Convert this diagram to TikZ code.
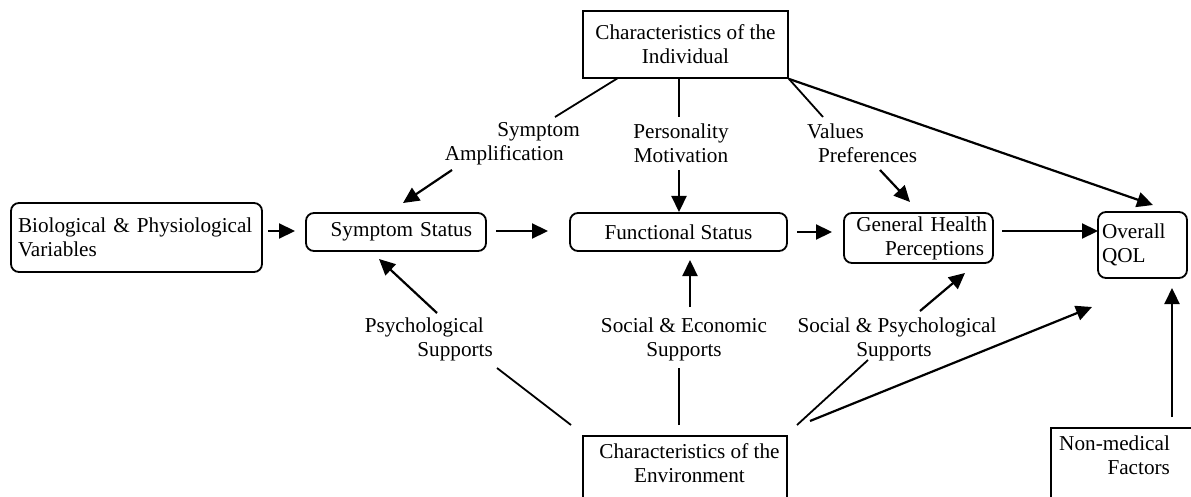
\documentclass[tikz,border=0pt]{standalone}
\usepackage{fontspec}
\setmainfont{Liberation Serif}
\usetikzlibrary{arrows.meta}
\begin{document}
\begin{tikzpicture}[x=1pt,y=-1pt,
  every node/.style={font=\fontsize{21.2}{24}\selectfont},
  sqbox/.style={draw, line width=1.8pt, inner sep=0pt},
  rbox/.style={draw, line width=1.8pt, rounded corners=8pt, inner sep=0pt},
  lbl/.style={inner sep=0pt},
  ln/.style={line width=1.8pt},
  arr/.style={line width=2.2pt, -{Triangle[length=16pt,width=15pt]}},
]
\useasboundingbox (0,0) rectangle (1191,497);
\clip (0,0) rectangle (1191,497);

% boxes
\node[sqbox, minimum width=205pt, minimum height=67pt, align=center] (indiv) at (685.5,44.5) {Characteristics of the\\Individual};
\node[rbox, minimum width=251pt, minimum height=69pt, text width=237pt, align=left] (bio) at (136.5,237.5) {Biological \& Physiological\\Variables};
\node[rbox, minimum width=180pt, minimum height=38pt, text width=152pt, align=right] (symptom) at (396,232) {Symptom Status};
\node[rbox, minimum width=217pt, minimum height=38pt] (functional) at (678.5,232) {Functional Status};
\node[rbox, minimum width=149pt, minimum height=50pt, text width=137pt, align=right] (ghp) at (918.5,238) {General Health\\Perceptions\rule{3pt}{0pt}};
\node[rbox, minimum width=89pt, minimum height=66pt, text width=81pt, align=left] (qol) at (1142.5,245) {Overall\\QOL};
\node[sqbox, anchor=north, minimum width=204pt, inner ysep=8pt, align=center] (env) at (685,435) {\rule{9pt}{0pt}Characteristics of the\\\rule{9pt}{0pt}Environment\\\mbox{}};
\node[sqbox, anchor=north west, inner ysep=8pt, inner xsep=7pt, text width=180pt, align=right] (nonmed) at (1050,427) {Non-medical\rule{68pt}{0pt}\\Factors\rule{68pt}{0pt}\\\mbox{}};

% labels
\node[lbl, anchor=east, align=right] (sa) at (580,143.5) {Symptom\\Amplification\rule{16pt}{0pt}};
\node[lbl, align=center] (pm) at (681,143.5) {Personality\\Motivation};
\node[lbl, anchor=west, align=left] (vp) at (807,143.5) {Values\\\rule{11pt}{0pt}Preferences};
\node[lbl, anchor=east, align=right] (ps) at (493,339.5) {Psychological\rule{9pt}{0pt}\\Supports};
\node[lbl, align=center] (se) at (684,339.5) {Social \& Economic\\Supports};
\node[lbl, align=center] (sp) at (897,339.5) {Social \& Psychological\\Supports\rule{6pt}{0pt}};

% connector end points
\coordinate (i1) at (618,78);
\coordinate (sa1) at (555,117);
\coordinate (sa2) at (452,170);
\coordinate (stop) at (403,203);
\coordinate (i2) at (679,78);
\coordinate (pm1) at (679,117);
\coordinate (pm2) at (679,170);
\coordinate (ftop) at (679,212);
\coordinate (vp1) at (823,117);
\coordinate (vp2) at (880,170);
\coordinate (gtop) at (910,202);
\coordinate (qtop) at (1153,205);
\coordinate (b1) at (268,231);
\coordinate (sl) at (295,231);
\coordinate (s1) at (496,231);
\coordinate (fl) at (548,231);
\coordinate (f1) at (797,232);
\coordinate (gl) at (832,232);
\coordinate (g1) at (1002,231);
\coordinate (ql) at (1098,231);
\coordinate (e1) at (571,425);
\coordinate (ps1) at (497,368);
\coordinate (ps2) at (437,313);
\coordinate (sbot) at (379,259);
\coordinate (e2) at (679,425);
\coordinate (se1) at (679,368);
\coordinate (se2) at (690,307);
\coordinate (fbot) at (690,260);
\coordinate (e3) at (797,425);
\coordinate (sp1) at (868,360);
\coordinate (sp2) at (920,311);
\coordinate (gbot) at (965,273);
\coordinate (e4) at (810,421);
\coordinate (qbot1) at (1092,307);
\coordinate (n1) at (1172,417);
\coordinate (qbot2) at (1172,288);

% connectors
\draw[arr] (b1) -- (sl);
\draw[arr] (s1) -- (fl);
\draw[arr] (f1) -- (gl);
\draw[arr] (g1) -- (ql);
\draw[ln] (i1) -- (sa1);
\draw[arr] (sa2) -- (stop);
\draw[ln] (i2) -- (pm1);
\draw[arr] (pm2) -- (ftop);
\draw[ln] (indiv.south east) -- (vp1);
\draw[arr] (vp2) -- (gtop);
\draw[arr] (indiv.south east) -- (qtop);
\draw[ln] (e1) -- (ps1);
\draw[arr] (ps2) -- (sbot);
\draw[ln] (e2) -- (se1);
\draw[arr] (se2) -- (fbot);
\draw[ln] (e3) -- (sp1);
\draw[arr] (sp2) -- (gbot);
\draw[arr] (e4) -- (qbot1);
\draw[arr] (n1) -- (qbot2);
\end{tikzpicture}
\end{document}
